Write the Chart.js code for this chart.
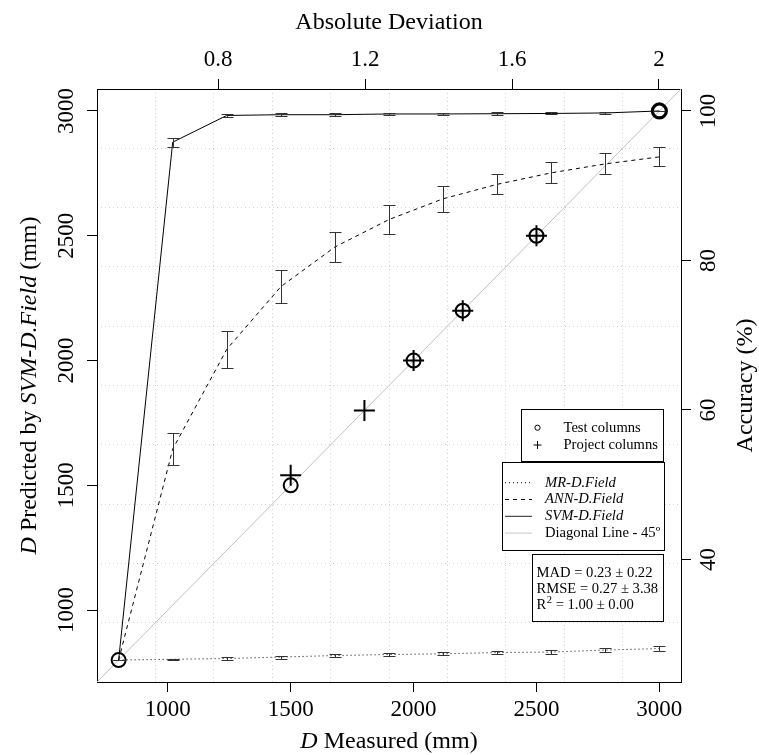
<!DOCTYPE html>
<html>
<head>
<meta charset="utf-8">
<title>D Predicted vs D Measured</title>
<script src="https://cdn.jsdelivr.net/npm/chart.js@4.4.1/dist/chart.umd.min.js"></script>
<style>
  body { margin: 0; background: #fff; }
  #wrap { width: 759px; height: 755px; }
</style>
</head>
<body>
<div id="wrap"><canvas id="d-graph"></canvas></div>
<script>
// * Data
const measured = [800, 1020, 1240, 1460, 1680, 1900, 2120, 2340, 2560, 2780, 3000];
const mrPred = [800, 803, 806, 812, 818, 822, 825, 830, 832, 840, 846];
const mrErr = [0, 3, 5, 6, 6, 6, 6, 6, 7, 7, 9];
const annPred = [800, 1645, 2045, 2296, 2455, 2565, 2648, 2706, 2752, 2788, 2816];
const annErr = [0, 65, 75, 65, 59, 58, 51, 40, 42, 42, 38];
const svmPred = [800, 2875, 2982, 2985, 2985, 2988, 2988, 2989, 2990, 2992, 3000];
const svmErr = [0, 18, 5, 6, 6, 4, 4, 5, 4, 5, 0];

const testX = [800, 1500, 2000, 2200, 2500, 3000];
const testY = [800, 1500, 2000, 2200, 2500, 3000];
const projectX = [1500, 1800, 2000, 2200, 2500];
const projectY = [1540, 1800, 2000, 2200, 2500];

const dTicks = [1000, 1500, 2000, 2500, 3000];
const devTicks = [0.8, 1.2, 1.6, 2];
const accTicks = [40, 60, 80, 100];

const dRange = [712, 3088];
const devRange = [0.47, 2.06];
const accRange = [23.6, 102.94];
const gridCells = 10;

const statNames = ["MAD", "RMSE", "R"];
const statMean = ["0.23", "0.27", "1.00"];
const statSd = ["0.22", "3.38", "0.00"];

const serif = "'Liberation Serif', 'Times New Roman', serif";
const tickFont = { family: serif, size: 23 };

const pts = (xs, ys) => xs.map((x, i) => ({ x: x, y: ys[i] }));

// * Helpers
function setFont(ctx, size, italic) {
  ctx.font = (italic ? "italic " : "") + size + "px " + serif;
}

// draws mixed italic / upright text centred on the current origin
function richText(ctx, parts, size) {
  let total = 0;
  parts.forEach((p) => {
    setFont(ctx, size, p[1]);
    p.w = ctx.measureText(p[0]).width;
    total += p.w;
  });
  let x = -total / 2;
  parts.forEach((p) => {
    setFont(ctx, size, p[1]);
    ctx.fillText(p[0], x, 0);
    x += p.w;
  });
}

const crisp = (v) => Math.round(v) + 0.5;

// * Error bars
const errorBars = {
  id: "errorBars",
  afterDatasetsDraw(chart) {
    const ctx = chart.ctx;
    const xs = chart.scales.x;
    const ys = chart.scales.y;
    ctx.save();
    ctx.strokeStyle = "#333";
    ctx.lineWidth = 1;
    chart.data.datasets.forEach((ds) => {
      if (!ds.errors) return;
      ds.data.forEach((p, i) => {
        const px = crisp(xs.getPixelForValue(p.x));
        const top = crisp(ys.getPixelForValue(p.y + ds.errors[i]));
        const bot = crisp(ys.getPixelForValue(p.y - ds.errors[i]));
        ctx.beginPath();
        ctx.moveTo(px, top);
        ctx.lineTo(px, bot);
        ctx.moveTo(px - 6, top);
        ctx.lineTo(px + 6, top);
        ctx.moveTo(px - 6, bot);
        ctx.lineTo(px + 6, bot);
        ctx.stroke();
      });
    });
    ctx.restore();
  },
};

// * Axis titles
const axisTitles = {
  id: "axisTitles",
  afterDraw(chart) {
    const ctx = chart.ctx;
    const a = chart.chartArea;
    const cx = (a.left + a.right) / 2;
    const cy = (a.top + a.bottom) / 2;
    ctx.save();
    ctx.fillStyle = "#000";
    ctx.textBaseline = "middle";
    ctx.textAlign = "left";

    ctx.save();
    ctx.translate(cx, 742);
    richText(ctx, [["D", true], [" Measured (mm)", false]], 24);
    ctx.restore();

    ctx.save();
    ctx.translate(cx, 23);
    richText(ctx, [["Absolute Deviation", false]], 24);
    ctx.restore();

    ctx.save();
    ctx.translate(30, cy);
    ctx.rotate(-Math.PI / 2);
    richText(ctx, [["D", true], [" Predicted by ", false], ["SVM-D.Field", true], [" (mm)", false]], 24);
    ctx.restore();

    ctx.save();
    ctx.translate(746, cy);
    ctx.rotate(-Math.PI / 2);
    richText(ctx, [["Accuracy (%)", false]], 24);
    ctx.restore();

    ctx.restore();
  },
};

// * Legend boxes
const legendBoxes = {
  id: "legendBoxes",
  afterDraw(chart) {
    const ctx = chart.ctx;
    ctx.save();
    ctx.lineWidth = 1;
    ctx.strokeStyle = "#000";
    ctx.fillStyle = "#fff";
    [[521.5, 409.5, 142, 52], [502.5, 462.5, 162, 88], [532.5, 554.5, 131, 67]].forEach((b) => {
      ctx.fillRect(b[0], b[1], b[2], b[3]);
      ctx.strokeRect(b[0], b[1], b[2], b[3]);
    });

    ctx.fillStyle = "#000";
    ctx.textBaseline = "middle";
    ctx.textAlign = "left";
    const fs = 14.6;

    // point symbols
    ctx.beginPath();
    ctx.arc(537.5, 427.7, 2.6, 0, Math.PI * 2);
    ctx.stroke();
    ctx.beginPath();
    ctx.moveTo(533.5, 445);
    ctx.lineTo(541.5, 445);
    ctx.moveTo(537.5, 441);
    ctx.lineTo(537.5, 449);
    ctx.stroke();
    setFont(ctx, fs, false);
    ctx.fillText("Test columns", 563.5, 427.7);
    ctx.fillText("Project columns", 563.5, 445);

    // line samples
    const lines = [
      ["MR-D.Field", true, [1, 3], "#000"],
      ["ANN-D.Field", true, [4, 4], "#000"],
      ["SVM-D.Field", true, [], "#222"],
      ["Diagonal Line - 45º", false, [], "#c8c8c8"],
    ];
    lines.forEach((l, i) => {
      const y = 482.7 + i * 16.8;
      ctx.save();
      ctx.setLineDash(l[2]);
      ctx.strokeStyle = l[3];
      ctx.beginPath();
      ctx.moveTo(505, y);
      ctx.lineTo(532, y);
      ctx.stroke();
      ctx.restore();
      setFont(ctx, fs, l[1]);
      ctx.fillText(l[0], 545, y);
    });

    // fit statistics
    statNames.forEach((name, i) => {
      const y = 572.7 + i * 16.3;
      let x = 536.5;
      setFont(ctx, fs, false);
      ctx.fillText(name, x, y);
      x += ctx.measureText(name).width;
      if (name === "R") {
        setFont(ctx, 10.5, false);
        ctx.fillText("2", x + 0.5, y - 5.5);
        x += ctx.measureText("2").width + 0.5;
        setFont(ctx, fs, false);
      }
      ctx.fillText(" = " + statMean[i] + " \u00b1 " + statSd[i], x, y);
    });
    ctx.restore();
  },
};

// * Chart
const gridAxis = (pos) => ({
  type: "linear",
  position: pos,
  min: 0,
  max: gridCells,
  afterBuildTicks: (s) => {
    s.ticks = [];
    for (let i = 1; i < gridCells; i++) s.ticks.push({ value: i });
  },
  ticks: { display: false },
  grid: { color: "#d3d3d3", lineWidth: 1, drawTicks: false, z: -1 },
  border: { display: false, dash: [1, 3] },
  afterFit: (s) => {
    if (pos === "bottom") s.height = 0;
    else s.width = 0;
  },
});

const outerAxis = (pos, range, tickList, size, extra) =>
  Object.assign(
    {
      type: "linear",
      position: pos,
      min: range[0],
      max: range[1],
      afterBuildTicks: (s) => {
        s.ticks = tickList.map((v) => ({ value: v }));
      },
      ticks: {
        font: tickFont,
        color: "#000",
        autoSkip: false,
        callback: (v) => String(v),
      },
      grid: { drawOnChartArea: false, drawTicks: true, tickLength: 10, color: "#000", tickColor: "#000" },
      border: { display: true, color: "#000", width: 1 },
      afterFit: (s) => {
        if (pos === "bottom" || pos === "top") s.height = size;
        else s.width = size;
      },
    },
    extra
  );

const ctx = document.getElementById("d-graph").getContext("2d");

const dGraph = new Chart(ctx, {
  type: "scatter",
  data: {
    datasets: [
      {
        label: "Test columns",
        data: pts(testX, testY),
        pointStyle: "circle",
        pointRadius: 7,
        pointBorderWidth: (c) => (c.raw && c.raw.x === 3000 ? 3.2 : 2),
        borderColor: "#000",
        backgroundColor: "rgba(0,0,0,0)",
      },
      {
        label: "Project columns",
        data: pts(projectX, projectY),
        pointStyle: "cross",
        pointRadius: 10.5,
        pointBorderWidth: 2,
        borderColor: "#000",
      },
      {
        label: "SVM-D.Field",
        data: pts(measured, svmPred),
        errors: svmErr,
        showLine: true,
        borderColor: "#000",
        borderWidth: 1,
        pointRadius: 0,
      },
      {
        label: "ANN-D.Field",
        data: pts(measured, annPred),
        errors: annErr,
        showLine: true,
        borderColor: "#000",
        borderWidth: 1,
        borderDash: [4, 4],
        pointRadius: 0,
      },
      {
        label: "MR-D.Field",
        data: pts(measured, mrPred),
        errors: mrErr,
        showLine: true,
        borderColor: "#000",
        borderWidth: 1,
        borderDash: [1, 3],
        pointRadius: 0,
      },
      {
        label: "Diagonal Line - 45º",
        data: pts(dRange, dRange),
        showLine: true,
        borderColor: "#c0c0c0",
        borderWidth: 1,
        pointRadius: 0,
      },
    ],
  },
  options: {
    responsive: true,
    maintainAspectRatio: false,
    animation: false,
    devicePixelRatio: 1,
    events: [],
    layout: { padding: 0 },
    plugins: { legend: { display: false }, tooltip: { enabled: false } },
    scales: {
      x: outerAxis("bottom", dRange, dTicks, 73, {}),
      x2: outerAxis("top", devRange, devTicks, 89, {}),
      y: outerAxis("left", dRange, dTicks, 97, {}),
      y2: outerAxis("right", accRange, accTicks, 78, {}),
      gx: gridAxis("bottom"),
      gy: gridAxis("left"),
    },
  },
  plugins: [errorBars, axisTitles, legendBoxes],
});

// tick label placement and rotation (R style, reading upwards)
dGraph.options.scales.x.ticks.padding = 4;
dGraph.options.scales.x.ticks.maxRotation = 0;
dGraph.options.scales.x2.ticks.padding = 5;
dGraph.options.scales.x2.ticks.maxRotation = 0;
["y", "y2"].forEach((k) => {
  const t = dGraph.options.scales[k].ticks;
  t.minRotation = 90;
  t.maxRotation = 90;
  t.crossAlign = "center";
});
dGraph.options.scales.y.ticks.padding = -3;
dGraph.options.scales.y2.ticks.padding = 1;
dGraph.update();
</script>
</body>
</html>
